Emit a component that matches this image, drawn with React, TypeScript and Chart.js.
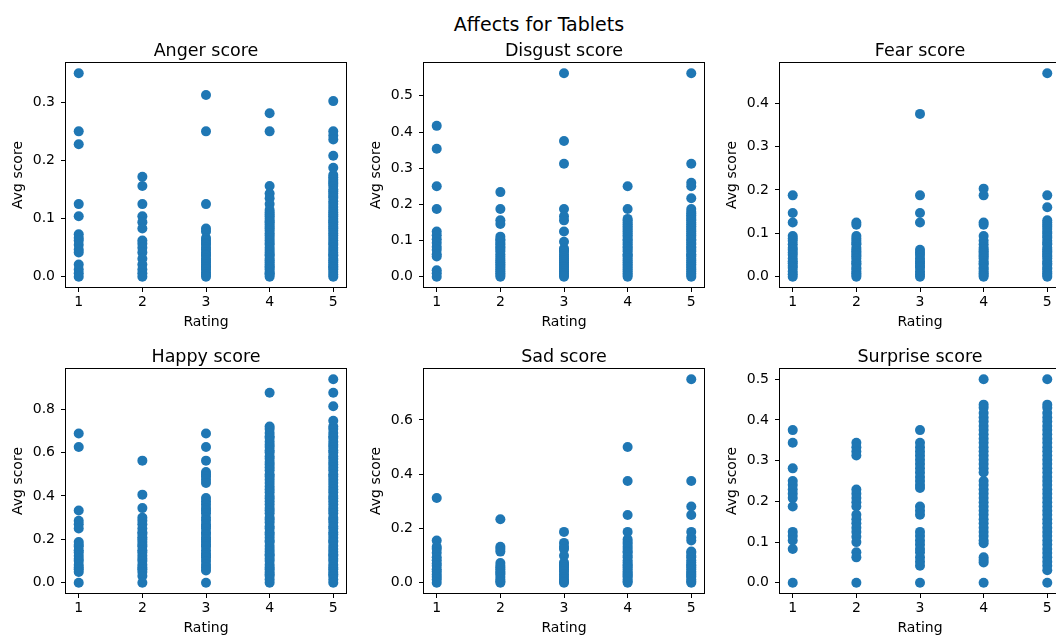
import React, { useEffect, useRef } from "react";
import { Chart, registerables } from "chart.js";

Chart.register(...registerables);

const FONT = "'DejaVu Sans', 'Liberation Sans', sans-serif";
const BLUE = "#1f77b4";
const TEXT = "#000000";

// ---------- data ----------
const figureTitle = "Affects for Tablets";
const xAxisLabel = "Rating";
const yAxisLabel = "Avg score";

const ratings = [1, 2, 3, 4, 5];
const xTickValues = [1, 2, 3, 4, 5];

// each inner array: avg scores observed for rating 1, 2, 3, 4, 5
const angerScores = [
  [0.35, 0.25, 0.228, 0.125, 0.104, 0.073, 0.0667, 0.0625, 0.055, 0.047, 0.042, 0.021, 0.0125, 0.006, 0.0],
  [0.172, 0.156, 0.125, 0.104, 0.094, 0.083, 0.0625, 0.057, 0.05, 0.042, 0.031, 0.021, 0.0125, 0.006, 0.0],
  [0.3125, 0.25, 0.125, 0.083, 0.078, 0.0667, 0.0625, 0.058, 0.055, 0.05, 0.047, 0.042, 0.038, 0.036, 0.031, 0.028, 0.025, 0.021, 0.018, 0.0156, 0.0125, 0.008, 0.004, 0.0],
  [0.281, 0.25, 0.156, 0.143, 0.135, 0.125, 0.115, 0.111, 0.107, 0.104, 0.1, 0.096, 0.094, 0.09, 0.086, 0.083, 0.079, 0.075, 0.071, 0.0667, 0.0625, 0.058, 0.055, 0.05, 0.046, 0.042, 0.038, 0.036, 0.031, 0.028, 0.025, 0.021, 0.018, 0.0156, 0.0125, 0.0083, 0.006, 0.004, 0.0],
  [0.302, 0.25, 0.243, 0.236, 0.208, 0.1875, 0.175, 0.171, 0.167, 0.163, 0.16, 0.156, 0.15, 0.147, 0.143, 0.139, 0.136, 0.13, 0.125, 0.12, 0.115, 0.111, 0.107, 0.104, 0.1, 0.096, 0.094, 0.09, 0.086, 0.083, 0.079, 0.075, 0.071, 0.0667, 0.0625, 0.058, 0.055, 0.05, 0.046, 0.042, 0.038, 0.036, 0.031, 0.028, 0.025, 0.021, 0.018, 0.0156, 0.0125, 0.0083, 0.004, 0.0],
];
const angerTicks = [0, 0.1, 0.2, 0.3];

const disgustScores = [
  [0.417, 0.354, 0.25, 0.1875, 0.125, 0.115, 0.104, 0.094, 0.083, 0.075, 0.0625, 0.056, 0.018, 0.01, 0.0],
  [0.234, 0.1875, 0.156, 0.146, 0.111, 0.104, 0.1, 0.094, 0.09, 0.083, 0.08, 0.075, 0.07, 0.0625, 0.056, 0.05, 0.045, 0.04, 0.035, 0.03, 0.025, 0.02, 0.0156, 0.01, 0.005, 0.0],
  [0.5625, 0.375, 0.3125, 0.1875, 0.167, 0.156, 0.125, 0.097, 0.078, 0.073, 0.07, 0.0625, 0.056, 0.05, 0.045, 0.04, 0.035, 0.03, 0.025, 0.02, 0.0156, 0.01, 0.005, 0.0],
  [0.25, 0.1875, 0.16, 0.156, 0.15, 0.145, 0.14, 0.135, 0.13, 0.125, 0.12, 0.115, 0.11, 0.104, 0.1, 0.094, 0.09, 0.083, 0.08, 0.075, 0.07, 0.0625, 0.06, 0.056, 0.05, 0.045, 0.04, 0.035, 0.03, 0.025, 0.02, 0.0156, 0.01, 0.005, 0.0],
  [0.5625, 0.3125, 0.26, 0.25, 0.217, 0.1875, 0.18, 0.175, 0.17, 0.165, 0.16, 0.156, 0.15, 0.145, 0.14, 0.135, 0.13, 0.125, 0.12, 0.115, 0.11, 0.104, 0.1, 0.094, 0.09, 0.083, 0.08, 0.075, 0.07, 0.0625, 0.06, 0.056, 0.05, 0.045, 0.04, 0.035, 0.03, 0.025, 0.02, 0.0156, 0.01, 0.005, 0.0],
];
const disgustTicks = [0, 0.1, 0.2, 0.3, 0.4, 0.5];

const fearScores = [
  [0.1875, 0.147, 0.125, 0.094, 0.088, 0.083, 0.075, 0.0667, 0.0625, 0.056, 0.05, 0.042, 0.036, 0.031, 0.025, 0.021, 0.0125, 0.006, 0.0],
  [0.125, 0.12, 0.094, 0.088, 0.083, 0.078, 0.075, 0.0667, 0.0625, 0.058, 0.055, 0.05, 0.047, 0.042, 0.036, 0.031, 0.028, 0.021, 0.018, 0.0125, 0.008, 0.004, 0.0],
  [0.375, 0.1875, 0.147, 0.125, 0.0625, 0.056, 0.05, 0.042, 0.036, 0.031, 0.025, 0.021, 0.0125, 0.006, 0.0],
  [0.203, 0.1875, 0.125, 0.12, 0.094, 0.083, 0.075, 0.0667, 0.0625, 0.058, 0.055, 0.05, 0.047, 0.042, 0.036, 0.031, 0.028, 0.021, 0.018, 0.0125, 0.008, 0.004, 0.0],
  [0.46875, 0.1875, 0.16, 0.13, 0.125, 0.12, 0.115, 0.11, 0.104, 0.1, 0.094, 0.09, 0.083, 0.078, 0.075, 0.0667, 0.0625, 0.058, 0.055, 0.05, 0.047, 0.042, 0.036, 0.031, 0.028, 0.021, 0.018, 0.0125, 0.008, 0.004, 0.0],
];
const fearTicks = [0, 0.1, 0.2, 0.3, 0.4];

const happyScores = [
  [0.6875, 0.625, 0.333, 0.286, 0.27, 0.25, 0.1875, 0.175, 0.167, 0.15, 0.14, 0.125, 0.111, 0.1, 0.083, 0.071, 0.0625, 0.05, 0.0],
  [0.5625, 0.406, 0.344, 0.3, 0.286, 0.27, 0.25, 0.233, 0.225, 0.21, 0.2, 0.1875, 0.175, 0.167, 0.15, 0.14, 0.125, 0.111, 0.1, 0.083, 0.071, 0.0625, 0.05, 0.031, 0.0],
  [0.6875, 0.625, 0.5625, 0.51, 0.5, 0.49, 0.475, 0.46, 0.39, 0.375, 0.36, 0.344, 0.333, 0.32, 0.3, 0.286, 0.27, 0.26, 0.25, 0.233, 0.225, 0.21, 0.2, 0.1875, 0.175, 0.167, 0.15, 0.135, 0.125, 0.115, 0.1, 0.083, 0.07, 0.057, 0.0],
  [0.875, 0.72, 0.708, 0.69, 0.675, 0.667, 0.65, 0.636, 0.625, 0.61, 0.6, 0.583, 0.571, 0.556, 0.545, 0.531, 0.518, 0.5, 0.49, 0.475, 0.46, 0.444, 0.43, 0.417, 0.4, 0.389, 0.375, 0.36, 0.344, 0.333, 0.32, 0.3, 0.29, 0.278, 0.26, 0.25, 0.233, 0.222, 0.208, 0.194, 0.1875, 0.17, 0.156, 0.143, 0.13, 0.125, 0.111, 0.1, 0.083, 0.071, 0.0625, 0.05, 0.04, 0.031, 0.0156, 0.0],
  [0.9375, 0.875, 0.8125, 0.746, 0.72, 0.708, 0.69, 0.675, 0.667, 0.65, 0.636, 0.625, 0.61, 0.6, 0.583, 0.571, 0.556, 0.545, 0.531, 0.518, 0.5, 0.49, 0.475, 0.46, 0.444, 0.43, 0.417, 0.4, 0.389, 0.375, 0.36, 0.344, 0.333, 0.32, 0.3, 0.29, 0.278, 0.26, 0.25, 0.233, 0.222, 0.208, 0.194, 0.1875, 0.17, 0.156, 0.143, 0.13, 0.125, 0.111, 0.1, 0.083, 0.071, 0.0625, 0.05, 0.04, 0.031, 0.0156, 0.0],
];
const happyTicks = [0, 0.2, 0.4, 0.6, 0.8];

const sadScores = [
  [0.3125, 0.156, 0.133, 0.125, 0.111, 0.094, 0.083, 0.071, 0.0625, 0.05, 0.042, 0.031, 0.021, 0.0125, 0.0],
  [0.234, 0.133, 0.125, 0.115, 0.073, 0.0625, 0.056, 0.05, 0.042, 0.036, 0.031, 0.021, 0.0125, 0.006, 0.0],
  [0.1875, 0.147, 0.133, 0.125, 0.1, 0.075, 0.0667, 0.0625, 0.056, 0.05, 0.042, 0.031, 0.021, 0.0125, 0.006, 0.0],
  [0.5, 0.375, 0.25, 0.1875, 0.16, 0.15, 0.143, 0.133, 0.125, 0.115, 0.111, 0.1, 0.094, 0.083, 0.075, 0.0667, 0.0625, 0.056, 0.05, 0.042, 0.036, 0.031, 0.025, 0.021, 0.0125, 0.006, 0.0],
  [0.75, 0.375, 0.281, 0.25, 0.1875, 0.167, 0.156, 0.115, 0.111, 0.1, 0.094, 0.083, 0.075, 0.0667, 0.0625, 0.056, 0.05, 0.042, 0.036, 0.031, 0.025, 0.021, 0.0125, 0.006, 0.0],
];
const sadTicks = [0, 0.2, 0.4, 0.6];

const surpriseScores = [
  [0.375, 0.344, 0.281, 0.25, 0.24, 0.229, 0.219, 0.208, 0.1875, 0.125, 0.115, 0.104, 0.083, 0.0],
  [0.344, 0.333, 0.3225, 0.3125, 0.229, 0.219, 0.208, 0.198, 0.1875, 0.167, 0.156, 0.146, 0.135, 0.125, 0.113, 0.1, 0.075, 0.0625, 0.0],
  [0.375, 0.344, 0.333, 0.3225, 0.3125, 0.302, 0.292, 0.281, 0.271, 0.26, 0.25, 0.24, 0.233, 0.1875, 0.177, 0.167, 0.125, 0.115, 0.104, 0.094, 0.083, 0.075, 0.0625, 0.052, 0.042, 0.0],
  [0.5, 0.4375, 0.43, 0.417, 0.406, 0.396, 0.385, 0.375, 0.365, 0.354, 0.344, 0.333, 0.323, 0.3125, 0.302, 0.292, 0.281, 0.271, 0.25, 0.24, 0.229, 0.219, 0.208, 0.198, 0.1875, 0.177, 0.167, 0.156, 0.146, 0.135, 0.125, 0.115, 0.104, 0.097, 0.0625, 0.056, 0.05, 0.0],
  [0.5, 0.4375, 0.43, 0.417, 0.406, 0.396, 0.385, 0.375, 0.365, 0.354, 0.344, 0.333, 0.323, 0.3125, 0.302, 0.292, 0.281, 0.271, 0.26, 0.25, 0.24, 0.229, 0.219, 0.208, 0.198, 0.1875, 0.177, 0.167, 0.156, 0.146, 0.135, 0.125, 0.115, 0.104, 0.094, 0.083, 0.073, 0.0625, 0.052, 0.042, 0.031, 0.0],
];
const surpriseTicks = [0, 0.1, 0.2, 0.3, 0.4, 0.5];

// ---------- layout ----------
const Y_AXIS_W = 66;
const TITLE_H = 31;
const X_AXIS_H = 48;
const RIGHT_PAD = 10;
const BOX_W = 280;
const BOX_H = 224;
const CANVAS_W = Y_AXIS_W + BOX_W + RIGHT_PAD;
const CANVAS_H = TITLE_H + BOX_H + X_AXIS_H;
const colLefts = [66, 424, 780];
const rowTops = [63, 369];

const panels = [
  { title: "Anger score", scores: angerScores, yTicks: angerTicks, col: 0, row: 0 },
  { title: "Disgust score", scores: disgustScores, yTicks: disgustTicks, col: 1, row: 0 },
  { title: "Fear score", scores: fearScores, yTicks: fearTicks, col: 2, row: 0 },
  { title: "Happy score", scores: happyScores, yTicks: happyTicks, col: 0, row: 1 },
  { title: "Sad score", scores: sadScores, yTicks: sadTicks, col: 1, row: 1 },
  { title: "Surprise score", scores: surpriseScores, yTicks: surpriseTicks, col: 2, row: 1 },
];

const framePlugin = {
  id: "frame",
  afterDatasetsDraw(chart: any) {
    const { ctx, chartArea } = chart;
    const l = Math.round(chartArea.left);
    const t = Math.round(chartArea.top);
    const r = Math.round(chartArea.right);
    const b = Math.round(chartArea.bottom);
    ctx.save();
    ctx.strokeStyle = "#000";
    ctx.lineWidth = 1;
    ctx.strokeRect(l - 0.5, t - 0.5, r - l + 1, b - t + 1);
    ctx.restore();
  },
};

function Panel(props: { title: string; scores: number[][]; yTicks: number[]; left: number; top: number }) {
  const { title, scores, yTicks, left, top } = props;
  const ref = useRef<HTMLCanvasElement | null>(null);

  useEffect(() => {
    if (!ref.current) return;
    const points: { x: number; y: number }[] = [];
    scores.forEach((vals, i) => vals.forEach((v) => points.push({ x: ratings[i], y: v })));
    const allY = scores.flat();
    const yMax = Math.max(...allY);
    const yMin = Math.min(...allY);
    const yPad = (yMax - yMin) * 0.05;
    const xMax = Math.max(...ratings);
    const xMin = Math.min(...ratings);
    const xPad = (xMax - xMin) * 0.05;

    const tickFont = { family: FONT, size: 14 };

    const chart = new Chart(ref.current, {
      type: "scatter",
      data: {
        datasets: [
          {
            data: points,
            backgroundColor: BLUE,
            borderColor: BLUE,
            borderWidth: 0,
            pointRadius: 5,
            pointHoverRadius: 5,
          },
        ],
      },
      options: {
        animation: false,
        responsive: false,
        events: [],
        layout: { padding: { top: 0, left: 0, right: RIGHT_PAD, bottom: 0 } },
        plugins: {
          legend: { display: false },
          tooltip: { enabled: false },
          title: {
            display: true,
            text: title,
            fullSize: false,
            color: TEXT,
            font: { family: FONT, size: 17.5, weight: "normal", lineHeight: 1.2 },
            padding: { top: 8.5, bottom: 1.5 },
          },
        },
        scales: {
          x: {
            type: "linear",
            min: xMin - xPad,
            max: xMax + xPad,
            afterBuildTicks: (s: any) => {
              s.ticks = xTickValues.map((v) => ({ value: v }));
            },
            afterFit: (s: any) => {
              s.height = X_AXIS_H;
            },
            ticks: {
              color: TEXT,
              font: tickFont,
              padding: 2,
              maxRotation: 0,
              autoSkip: false,
              callback: (v: any) => String(v),
            },
            grid: {
              display: true,
              drawOnChartArea: false,
              drawTicks: true,
              tickLength: 5,
              color: "#000",
              tickColor: "#000",
              tickWidth: 1,
            },
            border: { display: false },
            title: {
              display: true,
              text: xAxisLabel,
              color: TEXT,
              font: { family: FONT, size: 14 },
              padding: { top: 0, bottom: 4 },
            },
          },
          y: {
            type: "linear",
            min: yMin - yPad,
            max: yMax + yPad,
            afterBuildTicks: (s: any) => {
              s.ticks = yTicks.map((v) => ({ value: v }));
            },
            afterFit: (s: any) => {
              s.width = Y_AXIS_W;
            },
            ticks: {
              color: TEXT,
              font: tickFont,
              padding: 6,
              autoSkip: false,
              callback: (v: any) => Number(v).toFixed(1),
            },
            grid: {
              display: true,
              drawOnChartArea: false,
              drawTicks: true,
              tickLength: 5,
              color: "#000",
              tickColor: "#000",
              tickWidth: 1,
            },
            border: { display: false },
            title: {
              display: true,
              text: yAxisLabel,
              color: TEXT,
              font: { family: FONT, size: 14 },
              padding: { top: 9.5, bottom: 0 },
            },
          },
        },
      } as any,
      plugins: [framePlugin],
    });
    return () => chart.destroy();
  }, [title, scores, yTicks]);

  return (
    <canvas
      ref={ref}
      width={CANVAS_W}
      height={CANVAS_H}
      style={{
        position: "absolute",
        left: left - Y_AXIS_W,
        top: top - TITLE_H,
        width: CANVAS_W,
        height: CANVAS_H,
      }}
    />
  );
}

export default function App() {
  return (
    <div
      style={{
        position: "fixed",
        left: 0,
        top: 0,
        width: 1056,
        height: 639,
        overflow: "hidden",
        background: "#ffffff",
      }}
    >
      <div
        style={{
          position: "absolute",
          left: 0,
          top: 14.5,
          width: 1078,
          textAlign: "center",
          fontFamily: FONT,
          fontSize: 19,
          lineHeight: "19px",
          color: TEXT,
          whiteSpace: "nowrap",
        }}
      >
        {figureTitle}
      </div>
      {panels.map((p) => (
        <Panel
          key={p.title}
          title={p.title}
          scores={p.scores}
          yTicks={p.yTicks}
          left={colLefts[p.col]}
          top={rowTops[p.row]}
        />
      ))}
    </div>
  );
}
